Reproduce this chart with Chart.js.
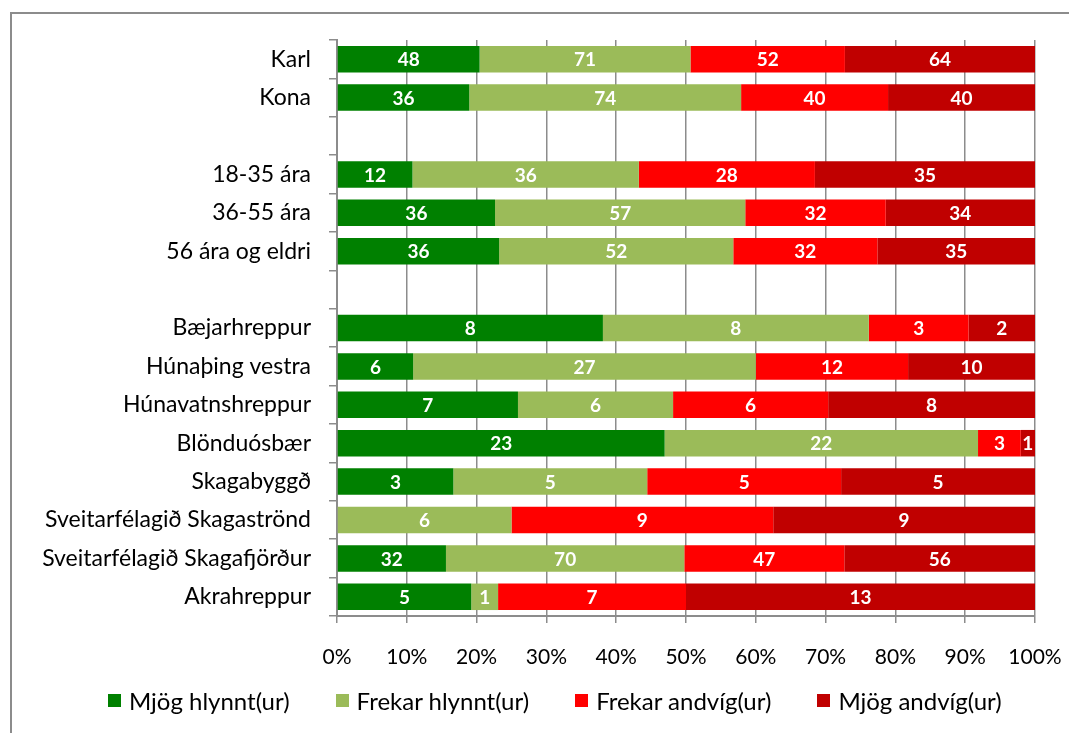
<!DOCTYPE html>
<html>
<head>
<meta charset="utf-8">
<script src="https://cdn.jsdelivr.net/npm/chart.js@4"></script>
<style>
    html, body { margin: 0; padding: 0; background: #fff; overflow: hidden; }
    #wrap { position: relative; width: 1069px; height: 733px; }
    #frame { position: absolute; left: 10px; top: 12px; width: 1100px; height: 800px;
             border-left: 2px solid #8c8c8c; border-top: 2px solid #8c8c8c; }
    #chart { position: absolute; left: 0; top: 0; }
    #legend { position: absolute; left: 108px; top: 686px; display: flex; align-items: center;
              font-family: Lato, sans-serif; font-size: 24px; color: #000; white-space: nowrap; }
    #legend .item { display: flex; align-items: center; margin-right: 46px; }
    #legend .box { width: 13px; height: 13px; margin-right: 8px; }
</style>
</head>
<body>
<div id="wrap">
    <div id="frame"></div>
    <canvas id="chart" width="1069" height="733"></canvas>
    <div id="legend"></div>
</div>
<script>
// Categories (blank entries are the gaps between groups)
const categories = [
    'Karl', 'Kona', '',
    '18-35 ára', '36-55 ára', '56 ára og eldri', '',
    'Bæjarhreppur', 'Húnaþing vestra', 'Húnavatnshreppur', 'Blönduósbær',
    'Skagabyggð', 'Sveitarfélagið Skagaströnd', 'Sveitarfélagið Skagafjörður', 'Akrahreppur'
];

// Counts per answer (shown as labels, bars are share of row total)
const mjogHlynnt   = [48, 36, null, 12, 36, 36, null, 8, 6, 7, 23, 3, 0, 32, 5];
const frekarHlynnt = [71, 74, null, 36, 57, 52, null, 8, 27, 6, 22, 5, 6, 70, 1];
const frekarAndvig = [52, 40, null, 28, 32, 32, null, 3, 12, 6, 3, 5, 9, 47, 7];
const mjogAndvig   = [64, 40, null, 35, 34, 35, null, 2, 10, 8, 1, 5, 9, 56, 13];

const seriesNames = ['Mjög hlynnt(ur)', 'Frekar hlynnt(ur)', 'Frekar andvíg(ur)', 'Mjög andvíg(ur)'];
const seriesColors = ['#008000', '#9bbb59', '#ff0000', '#c00000'];

const xTicks = [0, 10, 20, 30, 40, 50, 60, 70, 80, 90, 100];

const counts = [mjogHlynnt, frekarHlynnt, frekarAndvig, mjogAndvig];
const totals = categories.map((c, i) => counts.reduce((s, arr) => s + (arr[i] || 0), 0));
const toPct = arr => arr.map((v, i) => v === null ? null : v / totals[i] * 100);

const FONT = 'Lato, sans-serif';

// Draw count labels in the middle of each segment
const countLabels = {
    id: 'countLabels',
    afterDatasetsDraw(chart) {
        const ctx = chart.ctx;
        ctx.save();
        ctx.font = 'bold 19px ' + FONT;
        ctx.fillStyle = '#fff';
        ctx.textAlign = 'center';
        ctx.textBaseline = 'middle';
        chart.data.datasets.forEach((ds, di) => {
            chart.getDatasetMeta(di).data.forEach((bar, i) => {
                const v = counts[di][i];
                if (!v) return;
                const p = bar.getCenterPoint();
                ctx.fillText(String(v), p.x, p.y + 1);
            });
        });
        ctx.restore();
    }
};

const chart = new Chart(document.getElementById('chart'), {
    type: 'bar',
    data: {
        labels: categories,
        datasets: counts.map((arr, i) => ({
            label: seriesNames[i],
            data: toPct(arr),
            backgroundColor: seriesColors[i],
            borderWidth: 0,
            categoryPercentage: 1,
            barPercentage: 0.69
        }))
    },
    options: {
        indexAxis: 'y',
        responsive: false,
        animation: false,
        layout: { padding: { top: 40, right: 34, bottom: 57, left: 0 } },
        plugins: {
            legend: { display: false },
            tooltip: { enabled: false }
        },
        scales: {
            x: {
                stacked: true,
                min: 0,
                max: 100,
                afterBuildTicks: axis => { axis.ticks = xTicks.map(v => ({ value: v })); },
                afterFit: axis => {
                    axis.height = 60;
                    axis.paddingLeft = 0;
                    axis.paddingRight = 0;
                },
                grid: { color: '#8c8c8c', lineWidth: 1.5, tickLength: 7 },
                border: { color: '#8c8c8c', width: 2 },
                ticks: {
                    padding: 22,
                    color: '#000',
                    font: { family: FONT, size: 21 },
                    callback: v => v + '%'
                }
            },
            y: {
                stacked: true,
                afterFit: axis => { axis.width = 337; },
                grid: { drawOnChartArea: false, offset: true, color: '#8c8c8c', lineWidth: 1.5, tickLength: 8 },
                border: { color: '#8c8c8c', width: 2 },
                ticks: {
                    padding: 18,
                    color: '#000',
                    font: { family: FONT, size: 23 }
                }
            }
        }
    },
    plugins: [countLabels]
});

// Legend
const legend = document.getElementById('legend');
seriesNames.forEach((name, i) => {
    const item = document.createElement('div');
    item.className = 'item';
    const box = document.createElement('span');
    box.className = 'box';
    box.style.background = seriesColors[i];
    const txt = document.createElement('span');
    txt.textContent = name;
    item.appendChild(box);
    item.appendChild(txt);
    legend.appendChild(item);
});
</script>
</body>
</html>
